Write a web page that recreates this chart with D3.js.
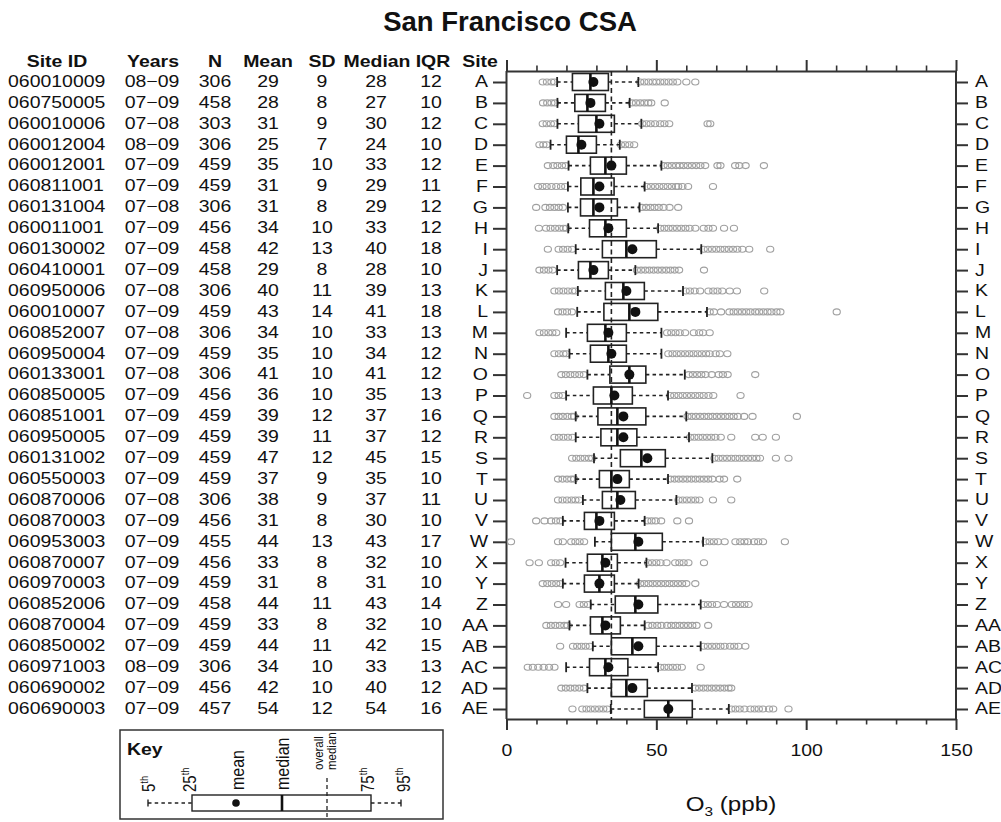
<!DOCTYPE html>
<html><head><meta charset="utf-8">
<script src="https://cdn.jsdelivr.net/npm/d3@7"></script>
<style>
body{margin:0;background:#fff}
svg{display:block}
text{font-family:"Liberation Sans",Arial,Helvetica,sans-serif;fill:#111}
</style>
</head><body>
<svg id="c" width="1001" height="822"></svg>
<script>
// ---------------- DATA ----------------
const sites = ["A","B","C","D","E","F","G","H","I","J","K","L","M","N","O","P","Q","R","S","T","U","V","W","X","Y","Z","AA","AB","AC","AD","AE"];
const siteIds = ["060010009","060750005","060010006","060012004","060012001","060811001","060131004","060011001","060130002","060410001","060950006","060010007","060852007","060950004","060133001","060850005","060851001","060950005","060131002","060550003","060870006","060870003","060953003","060870007","060970003","060852006","060870004","060850002","060971003","060690002","060690003"];
const years = ["08−09","07−09","07−08","08−09","07−09","07−09","07−08","07−09","07−09","07−09","07−08","07−09","07−08","07−09","07−08","07−09","07−09","07−09","07−09","07−09","07−08","07−09","07−09","07−09","07−09","07−09","07−09","07−09","08−09","07−09","07−09"];
const nObs = [306,458,303,306,459,459,306,456,458,458,306,459,306,459,306,456,459,459,459,459,306,456,455,456,459,458,459,459,306,456,457];
const means = [29,28,31,25,35,31,31,34,42,29,40,43,34,35,41,36,39,39,47,37,38,31,44,33,31,44,33,44,34,42,54];
const sds = [9,8,9,7,10,9,8,10,13,8,11,14,10,10,10,10,12,11,12,9,9,8,13,8,8,11,8,11,10,10,12];
const medians = [28,27,30,24,33,29,29,33,40,28,39,41,33,34,41,35,37,37,45,35,37,30,43,32,31,43,32,42,33,40,54];
const iqrs = [12,10,12,10,12,11,12,12,18,10,13,18,13,12,12,13,16,12,15,10,11,10,17,10,10,14,10,15,13,12,16];

const p5  = [16.9,17,17,14.7,20.7,20.5,20.5,20.6,23.1,16.9,23.8,23.6,19.9,21,27,19.9,23.1,23.1,29.2,23.1,25.5,18.8,29.5,19.7,18.8,28.1,21,28.8,19.9,27,34.8];
const q1  = [22,22.8,24,20,28,24.8,24.7,27.7,32,24,33,32.5,27,28,34.5,29,30.5,31.5,38,31,32,26,35,27,26,36.3,28,35,27.7,35,46];
const q3  = [34,33,36,30,40,35.9,37,40,50,34,46,50.5,40,40,46.5,42,46.5,43.5,53,41,43,36,52,37,36,50.5,38,50,40.5,47,62];
const p95 = [44,41.1,45,37.8,51.7,46.1,44.4,50.6,65,43,58.9,66.9,51.7,51.7,59.5,53.9,60,60.9,68.7,53.9,56.7,46.1,65.6,46.7,44.1,64.8,46.1,64.8,50.6,61.9,74.2];

const lowOutliers = [
 [12.1,13.5,15,16],
 [12.2,13.6,15,16.2],
 [12.1,13.4,14.8,16],
 [11,12.3,13.4],
 [13.8,15.6,17,18.5,19.8],
 [10.5,12,13.4,15,16.6,18.2,19.6],
 [9.9,13,14.5,16,17.4,18.8],
 [10.8,13.2,14.7,16.2,17.6,19,20],
 [13.8,17.4,18.9,20.4,21.9],
 [11,12.5,14,15.4],
 [16,17.5,19,20.5,22,23],
 [17.2,18.7,20.2,21.8],
 [11,12.5,14,15.3,16.6],
 [16,17.5,19,20],
 [18.3,19.8,21.3,22.8,24.3,25.8],
 [6.9,16,17.4,18.8],
 [16,17.4,18.8,20.3,21.8,22.6],
 [16,17.5,19,20.5,22],
 [21.9,23.3,24.7,26.1,27.5,28.6],
 [17.2,18.7,20.2,21.6,22.6],
 [17.2,18.7,20.2,21.7,23,24.2],
 [9.9,12.7,14.9,16.5,18],
 [1.5,17.2,18.8,21.6,23,24.4,25.9],
 [7.7,10.8,14.9,16.4,17.9],
 [12.1,13.6,15.1,16.6,18],
 [17.2,19.9,24.4,25.8,27.2],
 [13.3,14.8,16.3,17.8,19.3,20.4],
 [17.9,22.2,23.6,25,26.4,27.8],
 [7.1,8.8,10.6,12.4,14.2,16],
 [18.3,19.8,21.3,22.8,24.3,25.8],
 [22,25.3,26.7,28.1,29.5,30.9,32.3,33.6]
];
const highOutliers = [
 [44.6,46,47.4,48.8,50,51.3,52.7,54.1,55.5,57,60,63],
 [41.8,43.2,44.6,46,47.3,48.3,52.8],
 [45.3,46.7,48.1,49.6,51.3,52.7,54.3,67.1,68],
 [38.2,39.6,41,42.6],
 [52.4,53.8,55.2,56.6,57.8,59.1,60.5,61.9,63.3,64.7,66.3,70.4,71.4,76.3,77.7,79.8,85.9],
 [46.8,48.2,49.6,51,52.4,53.8,55.2,56.6,57.3,58.7,60.6,68.9],
 [45.2,46.6,48,49.4,50.8,52.4,54.4,57.3],
 [51.3,52.7,54.1,55.5,56.9,58.3,59.7,61.1,63,65.8,67.4,68.9,72.6,75.9],
 [65.8,67.2,68.6,70,71.4,72.8,74.2,75.6,77,78.7,81,88],
 [43.5,44.9,46.3,47.7,49.1,50.5,51.9,53.3,54.7,56.1,57.6,65.9],
 [59.8,61.2,62.8,64.6,67.4,69,70.4,72,74.5,76.9,86],
 [67.8,69.2,71.6,74.4,75.8,77.2,78.6,80,81.4,83,84.3,85.7,87.1,88.4,90.1,91.4,110.2],
 [53.6,55,56.4,57.8,59.6,62.5,64.3,65.6,67.8],
 [54,55.4,56.8,58.2,59.6,61,62.4,63.8,65.2,66.6,67.8,69.8,71.2,73.7],
 [60.8,62.2,63.6,65,66.4,68.5,70.8,72.2,73.8,83],
 [54.6,56,57.4,58.8,60.2,61.6,63,64.4,65.8,67.4,69,78.1],
 [60.4,61.8,63.2,64.6,66,67.4,68.8,70.2,71.6,73,74.4,75.8,77.2,79.3,82.1,96.9],
 [61.3,62.7,64.1,65.5,66.9,68.3,69.7,71.5,75,83,85.5,89.9],
 [69.4,70.8,72.2,73.6,75,76.4,77.8,79.2,80.6,82,83.4,84.6,89.9,94.1],
 [54.7,56.1,57.5,58.9,60.3,61.7,63.1,64.5,65.9,67.3,68.7,71.1,72.6,77],
 [57.4,58.8,60.2,61.6,63,64.4,68.9,75],
 [47,48.4,49.8,51.6,57,60.9],
 [66.4,67.8,69.2,70.6,72.8,76.4,78,79.4,80.6,82.6,84,85.6,92.9],
 [47.2,48.6,50,51.4,53.4,56.3,57.7,59.1,60.7,65.9],
 [44.6,46,47.4,48.8,50.2,51.6,53,54.4,55.8,57.2,58.6,60,63],
 [65.8,67.2,68.6,70.2,72.6,75.2,76.6,78,79.4,80.8],
 [47.3,48.7,50.3,51.7,53.6,55,56.4,57.8,59.2,60.6,62,63.4,67.3],
 [65.8,67.2,68.6,70,71.4,72.8,74.6,76,77.4,79.7],
 [51.3,52.7,54.1,55.5,56.9,58.5,64.8],
 [62.9,64.3,65.7,67.1,68.5,69.9,71.3,72.7,74.1,75],
 [75,76.4,77.8,79.4,81.4,82.8,84.2,85.6,87.6,89,94.1]
];
const overallMedian = 35;
const xMajorTicks = [0,50,100,150];
const xMinorTicks = [10,20,30,40,60,70,80,90,110,120,130,140];
const headers = ["Site ID","Years","N","Mean","SD","Median","IQR","Site"];

// ---------------- DRAW ----------------
const SX = 1.18;
const svg = d3.select("#c");
function txt(parent, x, y, s, o={}) {
  const sx = o.sx === undefined ? SX : o.sx;
  const t = parent.append("text")
    .attr("transform", `translate(${x},${y}) scale(${sx},1)` + (o.rot ? ` rotate(${o.rot})` : ""))
    .attr("font-size", o.size || 16.5)
    .attr("font-weight", o.weight || "normal")
    .attr("text-anchor", o.anchor || "start");
  if (o.dy) t.attr("dy", o.dy);
  if (s !== null) t.text(s);
  return t;
}

const x = d3.scaleLinear().domain([0,150]).range([506.5, 956]);
const y = d3.scalePoint().domain(sites).range([82, 709]);
const plotTop = 71, plotBottom = 719;

// title
txt(svg, 510, 31, "San Francisco CSA", {size:27.5, weight:"bold", anchor:"middle", sx:1});

// table headers
const headerX = [57,153,215,268,322,377,433,480];
headers.forEach((h,i) => txt(svg, headerX[i], 67, h, {weight:"bold", anchor:"middle"}));

// table rows
const tb = svg.append("g");
sites.forEach((s,i) => {
  const yy = y(s) + 4.8;
  txt(tb, 8, yy, siteIds[i]);
  txt(tb, 152, yy, years[i], {anchor:"middle"});
  txt(tb, 215, yy, String(nObs[i]), {anchor:"middle"});
  txt(tb, 268, yy, String(means[i]), {anchor:"middle"});
  txt(tb, 322, yy, String(sds[i]), {anchor:"middle"});
  txt(tb, 376, yy, String(medians[i]), {anchor:"middle"});
  txt(tb, 431, yy, String(iqrs[i]), {anchor:"middle"});
});

// axes
function styleAxis(g, w) {
  g.selectAll("path").attr("stroke","#333").attr("stroke-width",w);
  g.selectAll("line").attr("stroke","#333").attr("stroke-width",w);
}
// bottom
const gB = svg.append("g").attr("transform",`translate(0,${plotBottom})`)
  .call(d3.axisBottom(x).tickValues(xMajorTicks).tickSize(11).tickSizeOuter(0).tickPadding(14));
styleAxis(gB, 2);
gB.selectAll("text").each(function(){
  const t = d3.select(this);
  t.attr("y",0).attr("transform",`translate(0,25) scale(${SX},1)`).attr("font-size",16.5).attr("fill","#111");
});
gB.attr("font-family",null);
const gBm = svg.append("g").attr("transform",`translate(0,${plotBottom})`)
  .call(d3.axisBottom(x).tickValues(xMinorTicks).tickSize(5.5).tickFormat(""));
gBm.select(".domain").remove(); styleAxis(gBm, 1.6);
// top
const gT = svg.append("g").attr("transform",`translate(0,${plotTop})`)
  .call(d3.axisTop(x).tickValues(xMajorTicks).tickSize(11).tickSizeOuter(0).tickFormat(""));
styleAxis(gT, 2);
const gTm = svg.append("g").attr("transform",`translate(0,${plotTop})`)
  .call(d3.axisTop(x).tickValues(xMinorTicks).tickSize(5.5).tickFormat(""));
gTm.select(".domain").remove(); styleAxis(gTm, 1.6);
// left
const gL = svg.append("g").attr("transform",`translate(${x(0)},0)`)
  .call(d3.axisLeft(y).tickSize(13.5).tickSizeOuter(0));
gL.select(".domain").remove();
styleAxis(gL, 2);
gL.selectAll("text").attr("x",0).attr("transform",`translate(-18.5,0) scale(${SX},1)`).attr("font-size",16.5).attr("fill","#111").attr("dy","0.3em");
gL.attr("font-family",null);
// right
const gR = svg.append("g").attr("transform",`translate(${x(150)},0)`)
  .call(d3.axisRight(y).tickSize(12).tickSizeOuter(0));
gR.select(".domain").remove();
styleAxis(gR, 2);
gR.selectAll("text").attr("x",0).attr("transform",`translate(19,0) scale(${SX},1)`).attr("font-size",16.5).attr("fill","#111").attr("dy","0.3em");
gR.attr("font-family",null);
// vertical frame lines
svg.append("line").attr("x1",x(0)).attr("x2",x(0)).attr("y1",plotTop).attr("y2",plotBottom).attr("stroke","#333").attr("stroke-width",2);
svg.append("line").attr("x1",x(150)).attr("x2",x(150)).attr("y1",plotTop).attr("y2",plotBottom).attr("stroke","#333").attr("stroke-width",2);

// axis title
const at = txt(svg, 731, 811, null, {size:20.5, anchor:"middle"});
at.append("tspan").text("O");
at.append("tspan").attr("font-size",13).attr("dy",5).text("3");
at.append("tspan").attr("dy",-5).text(" (ppb)");

// box plots
const BH = 17;
const gBox = svg.append("g");
sites.forEach((s,i) => {
  const cy = y(s);
  const out = lowOutliers[i].concat(highOutliers[i]);
  gBox.selectAll(null).data(out).enter().append("ellipse")
    .attr("cx", d => x(d)).attr("cy", cy).attr("rx",3.6).attr("ry",3.0)
    .attr("fill","none").attr("stroke","#a0a0a0").attr("stroke-width",1.1);
  // whiskers
  [[p5[i],q1[i]],[q3[i],p95[i]]].forEach(([a,b]) => {
    gBox.append("line").attr("x1",x(a)).attr("x2",x(b)).attr("y1",cy).attr("y2",cy)
      .attr("stroke","#222").attr("stroke-width",1.6).attr("stroke-dasharray","3.5,3.2");
  });
  [p5[i],p95[i]].forEach(v => {
    gBox.append("line").attr("x1",x(v)).attr("x2",x(v)).attr("y1",cy-5).attr("y2",cy+5)
      .attr("stroke","#222").attr("stroke-width",1.8);
  });
  gBox.append("rect").attr("x",x(q1[i])).attr("width",x(q3[i])-x(q1[i]))
    .attr("y",cy-BH/2).attr("height",BH).attr("fill","#fff").attr("stroke","#222").attr("stroke-width",1.6);
});
// overall median
svg.append("line").attr("x1",x(overallMedian)).attr("x2",x(overallMedian)).attr("y1",plotTop).attr("y2",plotBottom)
  .attr("stroke","#222").attr("stroke-width",1.6).attr("stroke-dasharray","5,3.5");
const gMed = svg.append("g");
sites.forEach((s,i) => {
  const cy = y(s);
  gMed.append("line").attr("x1",x(medians[i])).attr("x2",x(medians[i])).attr("y1",cy-BH/2).attr("y2",cy+BH/2)
    .attr("stroke","#111").attr("stroke-width",2.6);
  gMed.append("ellipse").attr("cx",x(means[i])).attr("cy",cy).attr("rx",5).attr("ry",5).attr("fill","#111");
});

// key
const gK = svg.append("g");
gK.append("rect").attr("x",120).attr("y",730).attr("width",323).attr("height",89)
  .attr("fill","none").attr("stroke","#333").attr("stroke-width",1.5);
txt(gK, 127, 755, "Key", {size:16.5, weight:"bold"});
const kc = 803;
gK.append("line").attr("x1",148).attr("x2",192).attr("y1",kc).attr("y2",kc).attr("stroke","#222").attr("stroke-width",1.4).attr("stroke-dasharray","3.5,3.2");
gK.append("line").attr("x1",371).attr("x2",401).attr("y1",kc).attr("y2",kc).attr("stroke","#222").attr("stroke-width",1.4).attr("stroke-dasharray","3.5,3.2");
gK.append("line").attr("x1",148).attr("x2",148).attr("y1",kc-3.5).attr("y2",kc+3.5).attr("stroke","#222").attr("stroke-width",1.4);
gK.append("line").attr("x1",401).attr("x2",401).attr("y1",kc-3.5).attr("y2",kc+3.5).attr("stroke","#222").attr("stroke-width",1.4);
gK.append("rect").attr("x",192).attr("y",795).attr("width",179).attr("height",16).attr("fill","#fff").attr("stroke","#222").attr("stroke-width",1.4);
gK.append("line").attr("x1",327).attr("x2",327).attr("y1",778).attr("y2",819).attr("stroke","#222").attr("stroke-width",1.3).attr("stroke-dasharray","4,3");
gK.append("line").attr("x1",282).attr("x2",282).attr("y1",795).attr("y2",811).attr("stroke","#111").attr("stroke-width",2.6);
gK.append("circle").attr("cx",236).attr("cy",kc).attr("r",3.8).attr("fill","#111");
function keyLabel(cx, yb, main, sup, size) {
  const t = txt(gK, cx, yb, null, {size:size, rot:-90, dy:"0.36em"});
  t.append("tspan").text(main);
  if (sup) t.append("tspan").attr("font-size", size*0.62).attr("dy", -size*0.4).text(sup);
  return t;
}
keyLabel(149, 792, "5", "th", 15);
keyLabel(190, 792, "25", "th", 15);
keyLabel(237, 790, "mean", null, 16);
keyLabel(282, 790, "median", null, 16);
keyLabel(318, 770, "overall", null, 11.5);
keyLabel(331, 770, "median", null, 11.5);
keyLabel(368, 792, "75", "th", 15);
keyLabel(404, 792, "95", "th", 15);
</script>
</body></html>
